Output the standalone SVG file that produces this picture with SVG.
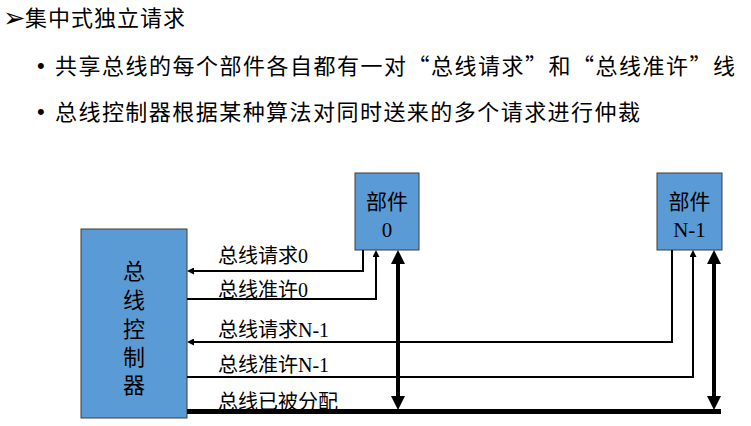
<svg xmlns="http://www.w3.org/2000/svg" width="751" height="426" viewBox="0 0 751 426">
<style>
.head{font-family:"Noto Sans CJK SC","Liberation Sans",sans-serif;font-size:22px;fill:#000}
.bul{font-family:"Liberation Sans",sans-serif;font-size:22px;fill:#000}
.lbl{font-family:"Liberation Serif","Noto Sans CJK SC",serif;font-size:20px;fill:#000}
.box{fill:#5B9BD5;stroke:#3C3C3C;stroke-width:1}
.nt{font-family:"Liberation Serif","Noto Sans CJK SC",serif;font-size:21px;fill:#000;text-anchor:middle}
.thin{fill:none;stroke:#000;stroke-width:2}
.thick{fill:none;stroke:#000;stroke-width:4}
</style>
<defs>
<marker id="ah" markerUnits="userSpaceOnUse" markerWidth="7" markerHeight="7" viewBox="0 0 7 7" refX="0" refY="3.5" orient="auto-start-reverse"><path d="M0,0 L7,3.5 L0,7 z" fill="#000"/></marker>
<marker id="ahb" markerUnits="userSpaceOnUse" markerWidth="14" markerHeight="14" viewBox="0 0 14 14" refX="0" refY="7" orient="auto-start-reverse"><path d="M0,0 L14,7 L0,14 z" fill="#000"/></marker>
</defs>
<g id="heading">
<text x="3" y="27" style="font-family:'DejaVu Sans',sans-serif;font-size:27px">➢</text>
<text class="head" x="25" y="26" textLength="160" lengthAdjust="spacing">集中式独立请求</text>
<text class="bul" x="37" y="73">•</text>
<text class="head" x="55" y="74" textLength="680" lengthAdjust="spacing">共享总线的每个部件各自都有一对“总线请求”和“总线准许”线</text>
<text class="bul" x="37" y="119">•</text>
<text class="head" x="55" y="120" textLength="585" lengthAdjust="spacing">总线控制器根据某种算法对同时送来的多个请求进行仲裁</text>
</g>
<g id="controller">
<rect class="box" x="81" y="229" width="106" height="189"/>
<text class="nt" x="134" y="279" style="font-size:22px">总</text>
<text class="nt" x="134" y="308" style="font-size:22px">线</text>
<text class="nt" x="134" y="337" style="font-size:22px">控</text>
<text class="nt" x="134" y="365" style="font-size:22px">制</text>
<text class="nt" x="134" y="393" style="font-size:22px">器</text>
</g>
<g id="part0">
<rect class="box" x="355" y="173" width="64" height="77"/>
<text class="nt" x="387" y="209">部件</text>
<text class="nt" x="387" y="237">0</text>
</g>
<g id="partN1">
<rect class="box" x="657" y="173" width="65" height="77"/>
<text class="nt" x="689.5" y="209">部件</text>
<text class="nt" x="689.5" y="237">N-1</text>
</g>
<g id="connectors">
<path class="thin" d="M363,250 V271 H194" marker-end="url(#ah)"/>
<path class="thin" d="M187,299 H376 V257" marker-end="url(#ah)"/>
<path class="thin" d="M672,250 V342 H194" marker-end="url(#ah)"/>
<path class="thin" d="M187,377 H693 V257" marker-end="url(#ah)"/>
<path fill="none" stroke="#000" stroke-width="5" d="M187,411.5 H721"/>
<path class="thick" d="M398,264 V396" marker-start="url(#ahb)" marker-end="url(#ahb)"/>
<path class="thick" d="M714,264 V396" marker-start="url(#ahb)" marker-end="url(#ahb)"/>
<text class="lbl" x="218" y="263">总线请求0</text>
<text class="lbl" x="218" y="297">总线准许0</text>
<text class="lbl" x="218" y="337">总线请求N-1</text>
<text class="lbl" x="218" y="372">总线准许N-1</text>
<text class="lbl" x="218" y="409">总线已被分配</text>
</g>
</svg>
